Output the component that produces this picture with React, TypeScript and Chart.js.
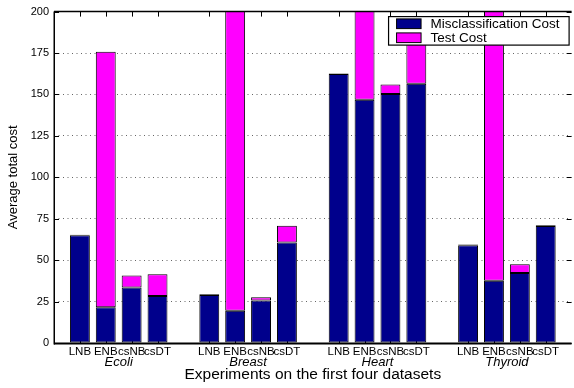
import { useEffect, useRef } from 'react';
import { Chart, registerables } from 'chart.js';

Chart.register(...registerables);

// ---- data ----
const groupNames = ['Ecoli', 'Breast', 'Heart', 'Thyroid'];
const methodNames = ['LNB', 'ENB', 'csNB', 'csDT'];
const seriesNames = ['Misclassification Cost', 'Test Cost'];

const lnbMisclass = [65.0, 29.0, 162.3, 59.0];
const lnbTest = [0.4, 0.4, 0.4, 0.5];
const enbMisclass = [21.5, 19.5, 146.8, 37.5];
const enbTest = [154.3, 235.0, 120.0, 215.0];
const csnbMisclass = [33.5, 25.6, 150.2, 42.3];
const csnbTest = [7.2, 2.0, 5.8, 5.3];
const csdtMisclass = [28.4, 60.7, 156.5, 70.6];
const csdtTest = [13.1, 10.1, 31.5, 0.5];

const yMin = 0;
const yMax = 200;
const yStep = 25;

const yTitle = 'Average total cost';
const xTitle = 'Experiments on the first four datasets';

const misColor = '#00008C';
const testColor = '#FF00FF';

const misByMethod = [lnbMisclass, enbMisclass, csnbMisclass, csdtMisclass];
const testByMethod = [lnbTest, enbTest, csnbTest, csdtTest];

// labels of the per-bar method axis: a blank slot between groups
const methodAxisLabels: string[] = [''];
groupNames.forEach(() => {
  methodNames.forEach((m) => methodAxisLabels.push(m));
  methodAxisLabels.push('');
});

const FONT = "'Liberation Sans', Arial, Helvetica, sans-serif";

const matlabAxes = {
  id: 'matlabAxes',
  beforeDatasetsDraw(chart: any) {
    const { ctx, chartArea: a, scales } = chart;
    const y = scales.y;
    const xm = scales.xm;
    const tl = 5;
    ctx.save();
    ctx.strokeStyle = '#000';
    ctx.lineWidth = 1;
    ctx.beginPath();
    y.ticks.forEach((t: any) => {
      const py = Math.round(y.getPixelForValue(t.value)) + 0.5;
      ctx.moveTo(a.left, py);
      ctx.lineTo(a.left + tl, py);
      ctx.moveTo(a.right, py);
      ctx.lineTo(a.right - tl, py);
    });
    const labels = xm.getLabels();
    labels.forEach((lab: string, i: number) => {
      if (!lab) return;
      const px = Math.round(xm.getPixelForValue(i)) + 0.5;
      ctx.moveTo(px, a.top);
      ctx.lineTo(px, a.top + tl);
      ctx.moveTo(px, a.bottom);
      ctx.lineTo(px, a.bottom - tl);
    });
    ctx.stroke();
    ctx.restore();
  },
  afterDatasetsDraw(chart: any) {
    const { ctx, chartArea: a } = chart;
    ctx.save();
    ctx.strokeStyle = '#000';
    // frame
    ctx.lineWidth = 1.5;
    ctx.beginPath();
    ctx.moveTo(a.left + 0.25, a.top);
    ctx.lineTo(a.left + 0.25, a.bottom + 1.5);
    ctx.moveTo(a.left, a.top);
    ctx.lineTo(a.right, a.top);
    ctx.stroke();
    ctx.lineWidth = 2;
    ctx.beginPath();
    ctx.moveTo(a.left, a.bottom + 0.5);
    ctx.lineTo(a.right, a.bottom + 0.5);
    ctx.stroke();

    // legend box
    ctx.font = `13.5px ${FONT}`;
    const tw = Math.max(...seriesNames.map((s) => ctx.measureText(s).width));
    const right = a.right - 2.5;
    const top = a.top + 5;
    const w = 42 + tw + 9.5;
    const h = 28.5;
    const left = right - w;
    ctx.fillStyle = '#fff';
    ctx.fillRect(left, top, w, h);
    ctx.lineWidth = 1.2;
    ctx.strokeRect(left, top, w, h);
    const colors = [misColor, testColor];
    seriesNames.forEach((name, i) => {
      const sy = top + 2.3 + i * 14;
      ctx.fillStyle = colors[i];
      ctx.fillRect(left + 8, sy, 24.5, 9.7);
      ctx.lineWidth = 1;
      ctx.strokeStyle = '#000';
      ctx.strokeRect(left + 8, sy, 24.5, 9.7);
      ctx.fillStyle = '#000';
      ctx.textAlign = 'left';
      ctx.textBaseline = 'middle';
      ctx.fillText(name, left + 42, sy + 5);
    });
    ctx.restore();
  },
};

export default function App() {
  const canvasRef = useRef<HTMLCanvasElement | null>(null);

  useEffect(() => {
    document.body.style.margin = '0';
    const canvas = canvasRef.current;
    if (!canvas) return;
    Chart.defaults.font.family = FONT;

    const datasets: any[] = [];
    methodNames.forEach((m, mi) => {
      datasets.push({
        label: `${m} ${seriesNames[0]}`,
        data: misByMethod[mi],
        stack: m,
        backgroundColor: misColor,
        borderColor: '#000',
        borderWidth: 1,
        borderSkipped: false,
        clip: 0,
        xAxisID: 'x',
        yAxisID: 'y',
      });
      datasets.push({
        label: `${m} ${seriesNames[1]}`,
        data: testByMethod[mi],
        stack: m,
        backgroundColor: testColor,
        borderColor: '#000',
        borderWidth: 1,
        borderSkipped: false,
        clip: 0,
        xAxisID: 'x',
        yAxisID: 'y',
      });
    });

    const chart = new Chart(canvas, {
      type: 'bar',
      data: { labels: groupNames, datasets },
      plugins: [matlabAxes],
      options: {
        responsive: false,
        animation: false,
        devicePixelRatio: 1,
        layout: { padding: { top: 7, right: 0, bottom: 0, left: 0 } },
        plugins: { legend: { display: false }, tooltip: { enabled: false } },
        datasets: { bar: { categoryPercentage: 0.8, barPercentage: 20 / 26 } },
        scales: {
          x: {
            type: 'category',
            position: 'bottom',
            stacked: true,
            offset: true,
            weight: 10,
            grid: { display: false, drawTicks: false },
            border: { display: false },
            ticks: {
              autoSkip: false,
              maxRotation: 0,
              padding: -2.6,
              color: '#000',
              font: { size: 13, style: 'italic' },
            },
            title: {
              display: true,
              text: xTitle,
              color: '#000',
              font: { size: 15.5 },
              padding: { top: 0, bottom: 4 },
            },
            afterFit: (s: any) => {
              s.height = 31;
            },
          },
          xm: {
            type: 'category',
            position: 'bottom',
            labels: methodAxisLabels,
            offset: false,
            weight: 0,
            grid: { display: false, drawTicks: false },
            border: { display: false },
            ticks: {
              autoSkip: false,
              maxRotation: 0,
              padding: 2.4,
              color: '#000',
              font: { size: 11.5 },
            },
            afterFit: (s: any) => {
              s.height = 14;
            },
          },
          y: {
            type: 'linear',
            stacked: true,
            min: yMin,
            max: yMax,
            ticks: { stepSize: yStep, padding: 5, color: '#000', font: { size: 11 } },
            grid: { color: 'rgba(0,0,0,0.6)', lineWidth: 1, drawTicks: false },
            border: { display: false, dash: [1, 3.5] },
            title: {
              display: true,
              text: yTitle,
              color: '#000',
              font: { size: 13 },
              padding: { top: 6, bottom: 0 },
            },
            afterFit: (s: any) => {
              s.width = 54;
            },
          },
        },
      } as any,
    });

    return () => {
      chart.destroy();
    };
  }, []);

  return (
    <div style={{ width: 574, height: 388 }}>
      <canvas ref={canvasRef} width={574} height={388} style={{ width: 574, height: 388, display: 'block' }} />
    </div>
  );
}
